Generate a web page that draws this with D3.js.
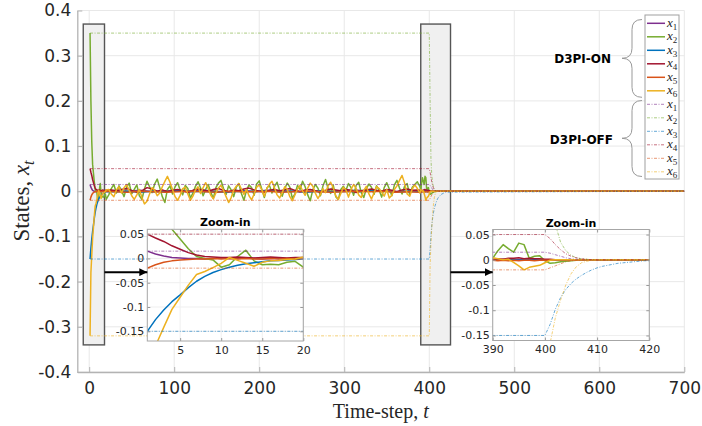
<!DOCTYPE html>
<html><head><meta charset="utf-8">
<script src="https://cdn.jsdelivr.net/npm/d3@7"></script>
<style>body{margin:0;background:#fff}svg{display:block}</style>
</head><body><svg id="c" width="702" height="426"></svg>
<script>
// ---------------- DATA ----------------
const seriesNames = ["1","2","3","4","5","6"];
const colors = ["#7E2F8E","#77AC30","#0072BD","#A2142F","#D95319","#EDB120"];
const groupLabels = ["D3PI-ON","D3PI-OFF"];

const xTicks = [0,100,200,300,400,500,600,700];
const yTicks = [-0.4,-0.3,-0.2,-0.1,0,0.1,0.2,0.3,0.4];
const yTickLabels = ["-0.4","-0.3","-0.2","-0.1","0","0.1","0.2","0.3","0.4"];
const inLXTicks = [5,10,15,20];
const inRXTicks = [390,400,410,420];
const inYTicks = [-0.15,-0.1,-0.05,0,0.05];
const inYTickLabels = ["-0.15","-0.1","-0.05","0","0.05"];

// time grids (time-step indices)
const tHead = d3.range(1, 21);                 // 1..20
const tFast = d3.range(23, 389, 3);            // 23..386
const tMed  = d3.range(26, 387, 6);            // 26..386
const tSlow = d3.range(30, 376, 15);           // 30..375
const tTail = d3.range(389, 409).concat([700]);// 389..408, 700
const tOff  = [1].concat(d3.range(400, 421), [700]);

// D3PI-ON : transient t=1..20
const x1Head = [0.015,0.009,0.005,0.002,0.001,0.000,0.000,-0.001,0.000,0.001,0.000,0.000,0.001,0.000,-0.001,0.000,0.001,0.000,0.000,0.001];
const x2Head = [0.35,0.20,0.11,0.06,0.04,0.02,0.004,0.000,-0.003,-0.018,-0.013,0.004,0.017,-0.005,-0.013,-0.012,-0.013,-0.008,-0.006,-0.018];
const x3Head = [-0.150,-0.126,-0.106,-0.089,-0.075,-0.060,-0.047,-0.037,-0.029,-0.023,-0.018,-0.014,-0.011,-0.009,-0.007,-0.005,-0.004,-0.003,-0.002,-0.001];
const x4Head = [0.050,0.042,0.035,0.026,0.019,0.012,0.007,0.004,0.003,0.002,0.002,0.003,0.002,0.001,0.002,0.003,0.002,0.001,0.002,0.002];
const x5Head = [-0.020,-0.013,-0.008,-0.005,-0.003,-0.002,-0.001,-0.001,0.000,-0.001,0.000,-0.001,0.000,-0.001,-0.001,0.000,-0.001,0.000,-0.001,0.000];
const x6Head = [-0.32,-0.18,-0.142,-0.105,-0.080,-0.055,-0.033,-0.027,-0.019,-0.010,0.002,-0.004,-0.010,-0.016,-0.008,-0.005,-0.004,-0.002,-0.001,0.003];

// D3PI-ON : steady fluctuations
const x2Mid = [
 -0.008,0.006,0.015,-0.004,0.012,0.002,-0.012,0.009,0.018,-0.006,
 0.004,0.014,-0.010,-0.018,0.005,0.022,0.010,-0.003,0.016,0.027,
 0.008,-0.012,-0.025,0.004,0.012,-0.006,0.010,0.019,0.003,-0.008,
 0.013,0.006,-0.015,-0.004,0.011,0.021,0.007,-0.010,0.004,0.015,
 -0.002,-0.016,0.008,0.018,0.024,0.006,-0.007,0.012,0.003,-0.012,
 0.009,0.017,-0.005,-0.020,0.002,0.014,0.008,-0.009,0.016,0.023,
 0.005,-0.014,0.007,0.013,-0.004,0.011,0.020,0.001,-0.011,0.006,
 0.018,0.009,-0.016,-0.006,0.013,0.004,0.022,0.010,-0.008,-0.021,
 0.003,0.015,0.007,-0.010,0.012,0.026,0.006,-0.005,0.014,-0.012,
 -0.018,0.004,0.011,0.002,0.017,0.008,-0.009,0.013,0.020,-0.003,
 -0.014,0.006,0.016,0.009,-0.007,0.012,0.003,-0.013,0.008,0.019,
 0.005,-0.010,0.014,0.024,0.007,-0.006,0.011,0.017,-0.008,0.009,
 0.015,0.021];
const x6Mid = [
 0.004,-0.006,-0.012,0.003,0.010,-0.004,0.008,0.015,0.002,-0.010,
 -0.018,-0.008,0.004,-0.014,-0.028,-0.022,-0.006,0.008,0.002,-0.010,
 -0.004,0.010,0.022,0.033,0.020,0.004,-0.012,-0.020,-0.009,0.006,
 0.009,-0.006,-0.020,-0.011,0.003,0.010,-0.005,0.008,0.019,0.006,
 -0.009,-0.017,-0.004,0.007,0.013,0.002,-0.012,-0.025,-0.014,0.003,
 0.011,0.017,0.005,-0.007,0.004,-0.010,-0.019,-0.006,0.009,0.014,
 0.003,-0.011,0.006,0.016,0.022,0.007,-0.008,-0.015,-0.003,0.010,
 0.004,-0.012,-0.021,-0.008,0.005,0.013,0.001,-0.009,0.007,0.018,
 0.011,-0.004,-0.016,-0.007,0.006,-0.003,0.012,0.020,0.008,-0.010,
 -0.018,-0.005,0.009,0.003,-0.013,0.004,0.015,0.006,-0.008,-0.014,
 0.002,0.011,-0.006,-0.017,-0.004,0.010,0.006,-0.002,-0.011,0.004,
 -0.015,-0.009,0.004,0.012,0.024,0.035,0.018,-0.006,-0.011,0.005,
 0.014,0.006];
const x4Mid = [
 0.003,0.001,0.004,0.006,0.002,-0.002,0.001,0.008,0.005,0.000,
 0.003,-0.001,0.002,0.004,0.001,-0.003,0.002,0.005,0.003,0.000,
 0.004,0.006,0.002,-0.001,0.003,0.001,0.005,0.007,0.003,0.000,
 -0.002,0.002,0.004,0.001,0.003,0.006,0.002,-0.001,0.003,0.004,
 0.001,-0.002,0.002,0.005,0.003,0.001,0.004,0.002,-0.003,0.001,
 0.003,0.005,0.002,0.000,0.004,0.002,-0.001,0.003,0.005,0.002,
 0.003];
const x1Mid = [0.001,0.000,0.002,-0.001,0.001,0.000,0.001,0.002,0.000,-0.001,0.001,0.000,0.002,0.001,0.000,-0.001,0.001,0.000,0.001,0.002,0.000,0.001,-0.001,0.000];
const x3Mid = [-0.001,0.000,-0.002,0.000,-0.001,0.001,-0.001,0.000,-0.002,-0.001,0.000,-0.001,0.001,-0.001,0.000,-0.002,0.000,-0.001,0.000,-0.001,0.001,0.000,-0.001,0.000];
const x5Mid = [-0.001,-0.002,0.000,-0.001,-0.002,-0.001,0.000,-0.001,-0.002,0.000,-0.001,-0.001,0.000,-0.002,-0.001,0.000,-0.001,-0.002,-0.001,0.000,-0.001,0.000,-0.002,-0.001];

// D3PI-ON : t=389..408 and 700
const x1Tail = [0.001,0.001,0.000,0.001,0.000,0.001,0.000,0.001,0.000,0.001,0.000,0,0,0,0,0,0,0,0,0,0];
const x2Tail = [0.010,0.003,0.018,0.030,0.022,0.015,0.033,0.030,0.003,0.007,0.008,-0.002,-0.007,-0.006,-0.004,-0.003,-0.002,-0.001,-0.001,0,0];
const x3Tail = [-0.001,0,-0.001,0,-0.001,0,-0.001,0,-0.001,0,0,0,0,0,0,0,0,0,0,0,0];
const x4Tail = [0.002,0.000,0.002,0.001,0.003,0.003,0.004,0.002,0.003,0.002,0.002,0.001,0.001,0,0,0,0,0,0,0,0];
const x5Tail = [-0.002,-0.001,-0.002,-0.001,-0.002,-0.001,-0.002,-0.001,-0.001,-0.002,-0.001,-0.001,-0.001,0,0,0,0,0,0,0,0];
const x6Tail = [-0.004,0.004,0.002,0.000,0.001,-0.005,-0.012,-0.020,-0.015,-0.013,-0.011,-0.006,-0.001,0,0,0,0,0,0,0,0];

// D3PI-OFF : t=1, 400..420, 700
const x1Off = [0.015,0.015,0.013,0.010,0.007,0.004,0.002,0.001,0,0,0,0,0,0,0,0,0,0,0,0,0,0,0];
const x2Off = [0.35,0.35,0.20,0.07,0.035,0.018,0.009,0.004,0.002,0.001,0,0,0,0,0,0,0,0,0,0,0,0,0];
const x3Off = [-0.15,-0.150,-0.128,-0.098,-0.075,-0.059,-0.047,-0.038,-0.031,-0.025,-0.020,-0.016,-0.013,-0.011,-0.009,-0.007,-0.006,-0.005,-0.004,-0.003,-0.002,-0.002,0];
const x4Off = [0.05,0.05,0.042,0.030,0.020,0.012,0.007,0.004,0.002,0.001,0,0,0,0,0,0,0,0,0,0,0,0,0];
const x5Off = [-0.02,-0.020,-0.016,-0.012,-0.008,-0.004,-0.002,-0.001,0,0,0,0,0,0,0,0,0,0,0,0,0,0,0];
const x6Off = [-0.32,-0.32,-0.165,-0.115,-0.080,-0.050,-0.028,-0.014,-0.006,-0.003,-0.001,0,0,0,0,0,0,0,0,0,0,0,0];

// ---------------- BUILD ----------------
function zipT(ts, vs, name){
  if (ts.length !== vs.length) throw new Error("length mismatch " + name + " " + ts.length + " vs " + vs.length);
  return ts.map((t,i)=>[t, vs[i]]);
}
function build(name, parts){ return [].concat(...parts.map(([t,v],k)=>zipT(t,v,name+"_"+k))); }
const onData = [
  build("x1",[[tHead,x1Head],[tSlow,x1Mid],[tTail,x1Tail]]),
  build("x2",[[tHead,x2Head],[tFast,x2Mid],[tTail,x2Tail]]),
  build("x3",[[tHead,x3Head],[tSlow,x3Mid],[tTail,x3Tail]]),
  build("x4",[[tHead,x4Head],[tMed,x4Mid],[tTail,x4Tail]]),
  build("x5",[[tHead,x5Head],[tSlow,x5Mid],[tTail,x5Tail]]),
  build("x6",[[tHead,x6Head],[tFast,x6Mid],[tTail,x6Tail]])
];
const offData = [x1Off,x2Off,x3Off,x4Off,x5Off,x6Off].map((v,i)=>zipT(tOff,v,"off"+i));

// ---------------- DRAW ----------------
const SANS = "'DejaVu Sans', sans-serif";
const SERIF = "'Liberation Serif','Times New Roman',serif";
const TXT = "#262626";
const svg = d3.select("#c");
const X0=77.3, X1=684.3, Y0=10.5, Y1=372;
const x = d3.scaleLinear().domain([-14,700]).range([X0,X1]);
const y = d3.scaleLinear().domain([-0.4,0.4]).range([Y1,Y0]);

const defs = svg.append("defs");
defs.append("clipPath").attr("id","cpMain").append("rect").attr("x",X0).attr("y",Y0).attr("width",X1-X0).attr("height",Y1-Y0);
const mk = defs.append("marker").attr("id","arr").attr("viewBox","0 0 10 10").attr("refX",10).attr("refY",5)
  .attr("markerWidth",4).attr("markerHeight",4).attr("orient","auto").attr("markerUnits","strokeWidth");
mk.append("path").attr("d","M0,0 L10,5 L0,10 z").attr("fill","#000");

// grid
const grid = svg.append("g");
grid.selectAll(".gx").data(xTicks).join("line").attr("x1",d=>x(d)).attr("x2",d=>x(d)).attr("y1",Y0).attr("y2",Y1).attr("stroke","#e8e8e8");
grid.selectAll(".gy").data(yTicks).join("line").attr("y1",d=>y(d)).attr("y2",d=>y(d)).attr("x1",X0).attr("x2",X1).attr("stroke","#e8e8e8");

// highlight boxes
const boxY = [-0.34, 0.37];
[[-7,18],[390,425]].forEach(b=>{
  svg.append("rect").attr("x",x(b[0])).attr("y",y(boxY[1])).attr("width",x(b[1])-x(b[0])).attr("height",y(boxY[0])-y(boxY[1]))
    .attr("fill","#f0f0f0").attr("stroke","#555").attr("stroke-width",1.4);
});

const OFF_DASH = "3,1.5,1,1.5";
function drawLines(g, sx, sy){
  const line = d3.line().x(d=>sx(d[0])).y(d=>sy(d[1]));
  onData.forEach((d,i)=> g.append("path").attr("d",line(d)).attr("fill","none").attr("stroke",colors[i]).attr("stroke-width",1.5).attr("stroke-linejoin","round"));
  offData.forEach((d,i)=> g.append("path").attr("d",line(d)).attr("fill","none").attr("stroke",colors[i]).attr("stroke-width",1).attr("stroke-opacity",0.6).attr("stroke-dasharray",OFF_DASH));
}
drawLines(svg.append("g").attr("clip-path","url(#cpMain)"), x, y);

// axes
const gx = svg.append("g").attr("transform",`translate(0,${Y1})`)
  .call(d3.axisBottom(x).tickValues(xTicks).tickSizeInner(-5).tickSizeOuter(0).tickPadding(10));
const gy = svg.append("g").attr("transform",`translate(${X0},0)`)
  .call(d3.axisLeft(y).tickValues(yTicks).tickSizeInner(-5).tickSizeOuter(0).tickPadding(6).tickFormat((d,i)=>yTickLabels[i]));
[gx,gy].forEach(g=>{
  g.select(".domain").attr("stroke","#b3b3b3").attr("stroke-width",1.3);
  g.selectAll(".tick line").attr("stroke","#b3b3b3");
  g.selectAll("text").attr("font-family",SANS).attr("font-size",17).attr("fill",TXT);
});
svg.append("text").attr("x",(X0+X1)/2).attr("y",418).attr("text-anchor","middle").attr("font-family",SERIF).attr("font-size",20).attr("fill",TXT)
  .text("Time-step, ").append("tspan").attr("font-style","italic").text("t");
const yl = svg.append("text").attr("transform","translate(29,201) rotate(-90)").attr("text-anchor","middle").attr("font-family",SERIF).attr("font-size",23).attr("fill",TXT);
yl.append("tspan").text("States, ");
yl.append("tspan").attr("font-style","italic").text("x");
yl.append("tspan").attr("font-style","italic").attr("font-size",16).attr("dy",5).text("t");

// insets
function inset(id, px0, px1, py0, py1, xdom, ydom, xt){
  const sx = d3.scaleLinear().domain(xdom).range([px0,px1]);
  const sy = d3.scaleLinear().domain(ydom).range([py1,py0]);
  defs.append("clipPath").attr("id",id).append("rect").attr("x",px0).attr("y",py0).attr("width",px1-px0).attr("height",py1-py0);
  const g = svg.append("g");
  g.append("rect").attr("x",px0).attr("y",py0).attr("width",px1-px0).attr("height",py1-py0).attr("fill","#fff");
  g.selectAll(".ix").data(xt).join("line").attr("x1",d=>sx(d)).attr("x2",d=>sx(d)).attr("y1",py0).attr("y2",py1).attr("stroke","#efefef");
  g.selectAll(".iy").data(inYTicks).join("line").attr("y1",d=>sy(d)).attr("y2",d=>sy(d)).attr("x1",px0).attr("x2",px1).attr("stroke","#efefef");
  drawLines(g.append("g").attr("clip-path",`url(#${id})`), sx, sy);
  const ax = g.append("g").attr("transform",`translate(0,${py1})`).call(d3.axisBottom(sx).tickValues(xt).tickSizeInner(-3).tickSizeOuter(0).tickPadding(5));
  const ay = g.append("g").attr("transform",`translate(${px0},0)`).call(d3.axisLeft(sy).tickValues(inYTicks).tickSizeInner(-3).tickSizeOuter(0).tickPadding(3).tickFormat((d,i)=>inYTickLabels[i]));
  const at = g.append("g").attr("transform",`translate(0,${py0})`).call(d3.axisTop(sx).tickValues(xt).tickSizeInner(-3).tickSizeOuter(0).tickFormat(""));
  const ar = g.append("g").attr("transform",`translate(${px1},0)`).call(d3.axisRight(sy).tickValues(inYTicks).tickSizeInner(-3).tickSizeOuter(0).tickFormat(""));
  [ax,ay,at,ar].forEach(a=>{
    a.select(".domain").remove();
    a.selectAll(".tick line").attr("stroke","#999");
    a.selectAll("text").attr("font-family",SANS).attr("font-size",11).attr("fill",TXT);
  });
  g.append("rect").attr("x",px0).attr("y",py0).attr("width",px1-px0).attr("height",py1-py0).attr("fill","none").attr("stroke","#a6a6a6").attr("stroke-width",1);
  g.append("text").attr("x",(px0+px1)/2).attr("y",py0-3).attr("text-anchor","middle").attr("font-family",SANS).attr("font-weight","bold").attr("font-size",11).attr("fill","#000").text("Zoom-in");
  return {sx, sy};
}
const L = inset("cpL", 147.3, 303.3, 229.3, 341, [1,20], [-0.17,0.06], inLXTicks);
const R = inset("cpR", 492.7, 649.3, 229.5, 340.5, [390,420], [-0.16,0.06], inRXTicks);

// arrows
const arrowV = -0.179;
svg.append("line").attr("x1",x(18)).attr("x2",147.3).attr("y1",y(arrowV)).attr("y2",y(arrowV)).attr("stroke","#000").attr("stroke-width",2).attr("marker-end","url(#arr)");
svg.append("line").attr("x1",x(425)).attr("x2",492.7).attr("y1",y(arrowV)).attr("y2",y(arrowV)).attr("stroke","#000").attr("stroke-width",2).attr("marker-end","url(#arr)");

// legend
const lg = svg.append("g");
lg.append("rect").attr("x",645).attr("y",15).attr("width",34).attr("height",164).attr("fill","#fff").attr("stroke","#a0a0a0").attr("stroke-width",1);
for (let k=0;k<12;k++){
  const i = k%6, off = k>=6;
  const yy = 23.3 + k*13.5;
  const ln = lg.append("line").attr("x1",647).attr("x2",665).attr("y1",yy).attr("y2",yy).attr("stroke",colors[i]);
  if (off) ln.attr("stroke-width",1).attr("stroke-opacity",0.6).attr("stroke-dasharray",OFF_DASH);
  else ln.attr("stroke-width",1.5);
  const t = lg.append("text").attr("x",667).attr("y",yy+3.5).attr("font-family",SERIF).attr("font-size",13).attr("fill",TXT);
  t.append("tspan").attr("font-style","italic").text("x");
  t.append("tspan").attr("font-size",9).attr("dy",3).text(seriesNames[i]);
}
// braces
function brace(yt, ym, yb){
  const xr=642, xm=632, xt=622;
  return `M${xr},${yt} Q${xm},${yt} ${xm},${yt+10} L${xm},${ym-10} Q${xm},${ym} ${xt},${ym} Q${xm},${ym} ${xm},${ym+10} L${xm},${yb-10} Q${xm},${yb} ${xr},${yb}`;
}
lg.append("path").attr("d",brace(19.5,58.3,97.3)).attr("fill","none").attr("stroke","#999").attr("stroke-width",1);
lg.append("path").attr("d",brace(100.5,138.3,176.5)).attr("fill","none").attr("stroke","#999").attr("stroke-width",1);
lg.append("text").attr("x",611).attr("y",62.8).attr("text-anchor","end").attr("font-family",SANS).attr("font-weight","bold").attr("font-size",12).attr("fill","#000").text(groupLabels[0]);
lg.append("text").attr("x",613).attr("y",143.5).attr("text-anchor","end").attr("font-family",SANS).attr("font-weight","bold").attr("font-size",12).attr("fill","#000").text(groupLabels[1]);
</script></body></html>
